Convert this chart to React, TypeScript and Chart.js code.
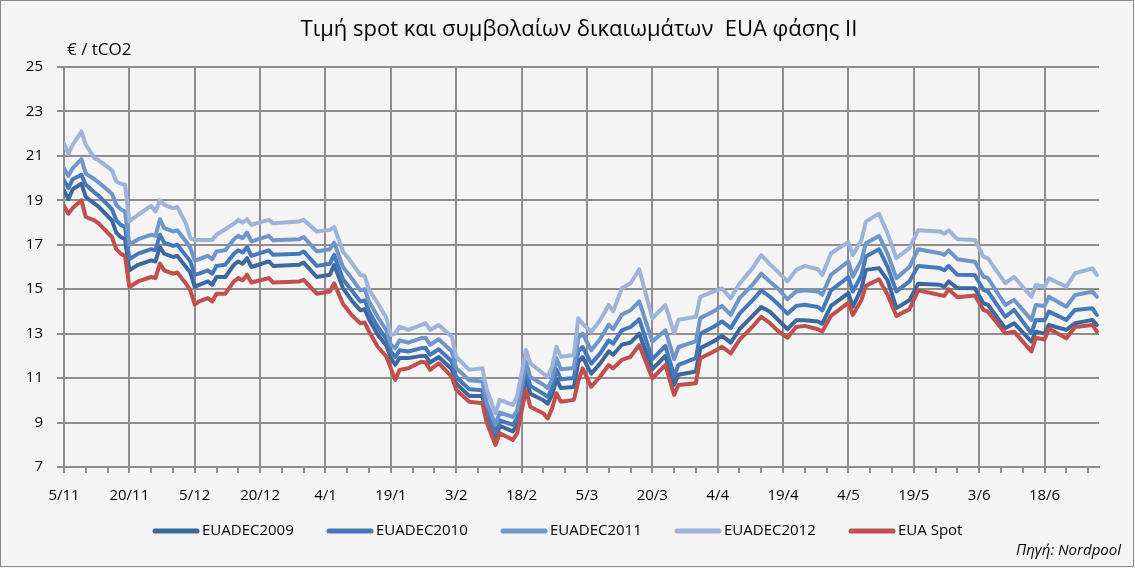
import { useEffect, useRef } from "react";
import { Chart, registerables } from "chart.js";

Chart.register(...registerables);

// day offsets from 5/11/2008
const days = [
  0, 1, 2, 4, 5, 7, 8, 11, 12, 13,
  14, 15, 17, 20, 21, 22, 23, 25, 26, 28,
  29, 30, 31, 33, 34, 35, 37, 39, 40, 41,
  42, 43, 47, 48, 54, 55, 58, 61, 62, 64,
  66, 68, 69, 70, 72, 74, 75, 76, 77, 79,
  82, 83, 84, 86, 89, 90, 93, 96, 97, 99,
  100, 103, 104, 106, 107, 110, 111, 112, 113, 114,
  117, 118, 119, 121, 123, 125, 126, 128, 130, 132,
  135, 138, 140, 141, 145, 146, 149, 151, 153, 155,
  158, 160, 162, 164, 166, 168, 170, 173, 174, 176,
  180, 181, 183, 184, 187, 189, 191, 194, 196, 201,
  202, 203, 205, 209, 211, 212, 216, 218, 222, 223,
  225, 226, 230, 232, 236, 237,
];

const euaSpot = [
  18.75, 18.4, 18.65, 19.0, 18.25, 18.1, 17.95, 17.35, 16.8, 16.6,
  16.5, 15.1, 15.35, 15.55, 15.5, 16.15, 15.85, 15.7, 15.75, 15.25,
  14.95, 14.3, 14.45, 14.6, 14.45, 14.8, 14.8, 15.35, 15.5, 15.4,
  15.65, 15.3, 15.5, 15.3, 15.35, 15.42, 14.8, 14.9, 15.27, 14.35,
  13.84, 13.47, 13.5, 13.1, 12.41, 11.96, 11.44, 10.92, 11.37, 11.44,
  11.74, 11.7, 11.37, 11.67, 11.06, 10.47, 9.94, 9.87, 9.0, 7.99,
  8.52, 8.22, 8.52, 10.47, 9.71, 9.41, 9.19, 9.64, 10.32, 9.94,
  10.02, 10.85, 11.44, 10.61, 11.06, 11.59, 11.44, 11.82, 11.96, 12.49,
  10.99, 11.59, 10.24, 10.69, 10.77, 11.89, 12.19, 12.41, 12.11, 12.72,
  13.32, 13.76, 13.47, 13.09, 12.82, 13.3, 13.35, 13.2, 13.1, 13.8,
  14.4, 13.84, 14.52, 15.15, 15.45, 14.75, 13.8, 14.1, 14.95, 14.74,
  14.7, 15.0, 14.64, 14.72, 14.07, 13.99, 13.02, 13.09, 12.2, 12.82,
  12.74, 13.22, 12.79, 13.3, 13.39, 13.09,
];

const euaDec2009 = [
  19.45, 19.05, 19.5, 19.75, 19.15, 18.85, 18.7, 18.1, 17.55, 17.35,
  17.25, 15.85, 16.1, 16.3, 16.25, 16.9, 16.6, 16.45, 16.5, 16.0,
  15.75, 15.1, 15.2, 15.35, 15.2, 15.55, 15.55, 16.1, 16.25, 16.15,
  16.4, 16.0, 16.25, 16.05, 16.1, 16.2, 15.55, 15.65, 16.1, 15.05,
  14.5, 14.05, 14.1, 13.65, 12.95, 12.45, 11.9, 11.6, 11.9, 11.9,
  12.0, 12.0, 11.7, 11.95, 11.4, 10.75, 10.2, 10.2, 9.3, 8.3,
  8.85, 8.6, 8.9, 11.0, 10.3, 10.0, 9.85, 10.25, 10.95, 10.55,
  10.6, 11.7, 11.95, 11.2, 11.65, 12.2, 12.05, 12.5, 12.6, 13.0,
  11.4, 12.0, 10.7, 11.15, 11.3, 12.35, 12.65, 12.9, 12.6, 13.2,
  13.8, 14.2, 13.99, 13.6, 13.2, 13.6, 13.6, 13.55, 13.45, 14.25,
  14.82, 14.21, 15.04, 15.87, 15.95, 15.4, 14.15, 14.5, 15.25, 15.2,
  15.1, 15.35, 15.05, 15.04, 14.37, 14.3, 13.24, 13.47, 12.64, 13.09,
  13.0, 13.39, 13.17, 13.47, 13.62, 13.39,
];

const euaDec2010 = [
  19.9, 19.55, 19.95, 20.15, 19.7, 19.35, 19.2, 18.6, 18.1, 17.9,
  17.8, 16.35, 16.6, 16.8, 16.75, 17.45, 17.1, 16.95, 17.0, 16.5,
  16.25, 15.65, 15.7, 15.85, 15.7, 16.05, 16.1, 16.6, 16.75, 16.65,
  16.9, 16.5, 16.75, 16.55, 16.6, 16.7, 16.05, 16.15, 16.55, 15.45,
  14.95, 14.45, 14.5, 14.0, 13.3, 12.75, 12.2, 11.95, 12.25, 12.2,
  12.35, 12.35, 12.05, 12.3, 11.75, 11.05, 10.5, 10.45, 9.55, 8.55,
  9.1, 8.9, 9.2, 11.4, 10.65, 10.3, 10.15, 10.55, 11.4, 10.95,
  11.0, 12.2, 12.4, 11.65, 12.1, 12.7, 12.55, 13.15, 13.3, 13.65,
  11.85, 12.45, 11.1, 11.6, 11.9, 13.0, 13.3, 13.55, 13.25, 13.9,
  14.5, 14.95, 14.66, 14.3, 13.9, 14.25, 14.3, 14.2, 14.05, 14.95,
  15.55, 14.89, 15.64, 16.47, 16.8, 16.0, 14.9, 15.35, 16.05, 15.95,
  15.85, 16.05, 15.65, 15.64, 14.97, 14.9, 13.76, 14.07, 13.02, 13.62,
  13.6, 13.99, 13.62, 14.07, 14.14, 13.84,
];

const euaDec2011 = [
  20.45, 20.1, 20.45, 20.85, 20.2, 19.95, 19.8, 19.3, 18.8, 18.6,
  18.5, 17.0, 17.25, 17.45, 17.4, 18.15, 17.75, 17.6, 17.65, 17.15,
  16.85, 16.3, 16.35, 16.5, 16.35, 16.7, 16.75, 17.25, 17.4, 17.3,
  17.55, 17.15, 17.4, 17.2, 17.25, 17.35, 16.7, 16.8, 17.1, 16.0,
  15.5, 14.95, 15.0, 14.45, 13.75, 13.15, 12.5, 12.35, 12.7, 12.6,
  12.8, 12.8, 12.5, 12.75, 12.2, 11.45, 10.9, 10.85, 9.9, 8.9,
  9.45, 9.25, 9.55, 11.75, 11.05, 10.7, 10.55, 10.95, 11.9, 11.4,
  11.45, 12.8, 13.0, 12.25, 12.75, 13.4, 13.2, 13.85, 14.05, 14.45,
  12.65, 13.15, 11.85, 12.4, 12.65, 13.7, 14.0, 14.25, 13.85, 14.6,
  15.2, 15.7, 15.34, 15.0, 14.55, 14.9, 14.95, 14.9, 14.75, 15.65,
  16.25, 15.56, 16.32, 17.07, 17.4, 16.6, 15.5, 16.0, 16.8, 16.62,
  16.55, 16.75, 16.35, 16.24, 15.56, 15.5, 14.29, 14.52, 13.62, 14.29,
  14.25, 14.66, 14.21, 14.74, 14.89, 14.66,
];

const euaDec2012 = [
  21.55, 21.1, 21.5, 22.1, 21.5, 20.9, 20.8, 20.35, 19.85, 19.75,
  19.7, 18.05, 18.35, 18.75, 18.5, 19.0, 18.8, 18.65, 18.7, 17.95,
  17.3, 17.2, 17.22, 17.22, 17.22, 17.45, 17.7, 17.95, 18.12, 18.0,
  18.15, 17.9, 18.12, 17.97, 18.05, 18.12, 17.6, 17.67, 17.8, 16.7,
  16.2, 15.64, 15.6, 14.97, 14.37, 13.69, 12.94, 13.0, 13.32, 13.17,
  13.4, 13.47, 13.17, 13.39, 12.86, 11.96, 11.37, 11.45, 10.5, 9.41,
  10.02, 9.79, 10.2, 12.27, 11.67, 11.2, 11.06, 11.5, 12.41, 11.96,
  12.04, 13.69, 13.45, 13.09, 13.6, 14.29, 14.0, 15.04, 15.27, 15.9,
  13.69, 14.29, 13.02, 13.62, 13.76, 14.66, 14.89, 15.04, 14.59, 15.25,
  15.95, 16.54, 16.12, 15.75, 15.35, 15.87, 16.05, 15.9, 15.64, 16.62,
  17.12, 16.54, 17.22, 18.04, 18.4, 17.5, 16.4, 16.85, 17.65, 17.6,
  17.5, 17.65, 17.25, 17.22, 16.47, 16.39, 15.27, 15.56, 14.66, 15.19,
  15.11, 15.49, 15.11, 15.72, 15.94, 15.64,
];

const xTickLabels = [
  "5/11", "20/11", "5/12", "20/12", "4/1", "19/1", "3/2", "18/2",
  "5/3", "20/3", "4/4", "19/4", "4/5", "19/5", "3/6", "18/6",
];

const seriesNames = ["EUADEC2009", "EUADEC2010", "EUADEC2011", "EUADEC2012", "EUA Spot"];
const seriesColors = ["#3B689F", "#4679B9", "#7096C9", "#9DB3D7", "#C0504D"];
const seriesValues = [euaDec2009, euaDec2010, euaDec2011, euaDec2012, euaSpot];

const titleText = "Τιμή spot και συμβολαίων δικαιωμάτων  EUA φάσης II";
const unitText = "€ / tCO2";
const sourceText = "Πηγή: Nordpool";

const FONT = "'Open Sans', 'Noto Sans', sans-serif";
const GRID = "#8e8e8e";
const BG = "#f4f4f4";

export default function App() {
  const ref = useRef<HTMLCanvasElement>(null);

  useEffect(() => {
    document.body.style.margin = "0";
    document.body.style.overflow = "hidden";
    const canvas = ref.current;
    if (!canvas) return;

    const bgPlugin = {
      id: "bgPlugin",
      beforeDraw(chart: any) {
        const c = chart.ctx;
        c.save();
        c.fillStyle = BG;
        c.fillRect(0, 0, chart.width, chart.height);
        c.strokeStyle = "#8a8a8a";
        c.lineWidth = 1;
        c.strokeRect(0.5, 0.5, chart.width - 2, chart.height - 2);
        c.restore();
      },
      afterDraw(chart: any) {
        const c = chart.ctx;
        c.save();
        c.fillStyle = "#000";
        c.textBaseline = "middle";
        // title
        c.font = `22px ${FONT}`;
        c.textAlign = "center";
        c.fillText(titleText, 579, 30);
        // unit label
        c.font = `17px ${FONT}`;
        c.textAlign = "left";
        c.fillText(unitText, 67, 50);
        // legend
        const x0 = 153;
        const pitch = 174;
        const y = 531;
        c.font = `15px ${FONT}`;
        seriesNames.forEach((name, i) => {
          const x = x0 + i * pitch;
          c.strokeStyle = seriesColors[i];
          c.lineWidth = 5;
          c.lineCap = "round";
          c.beginPath();
          c.moveTo(x + 2, y);
          c.lineTo(x + 44, y);
          c.stroke();
          c.fillStyle = "#000";
          c.textAlign = "left";
          c.fillText(name, x + 49, y);
        });
        // source
        c.font = `italic 15px ${FONT}`;
        c.textAlign = "right";
        c.fillText(sourceText, 1121, 551);
        c.restore();
      },
    };

    const chart = new Chart(canvas, {
      type: "line",
      data: {
        datasets: seriesNames.map((name, i) => ({
          label: name,
          data: days.map((d, j) => ({ x: d, y: seriesValues[i][j] })),
          borderColor: seriesColors[i],
          backgroundColor: seriesColors[i],
          borderWidth: 4,
          pointRadius: 0,
          tension: 0,
          borderJoinStyle: "round" as const,
          borderCapStyle: "round" as const,
          order: 5 - i,
        })),
      },
      options: {
        animation: false,
        responsive: false,
        layout: { padding: { left: 0, right: 36, top: 67, bottom: 0 } },
        plugins: {
          legend: { display: false },
          tooltip: { enabled: false },
          title: { display: false },
        },
        scales: {
          x: {
            type: "linear",
            min: 0,
            max: 237.5,
            afterBuildTicks: (scale: any) => {
              const t: { value: number }[] = [];
              for (let v = 0; v <= 235; v += 5) t.push({ value: v });
              scale.ticks = t;
            },
            afterFit: (scale: any) => {
              scale.height = 101;
            },
            ticks: {
              autoSkip: false,
              maxRotation: 0,
              minRotation: 0,
              padding: 14,
              color: "#000",
              font: { family: FONT, size: 15 },
              callback: (value: any) => {
                const v = Number(value);
                return v % 15 === 0 ? xTickLabels[v / 15] ?? "" : "";
              },
            },
            grid: {
              color: (ctx: any) =>
                ctx.tick && ctx.tick.value % 15 === 0 ? GRID : "rgba(0,0,0,0)",
              tickColor: GRID,
              lineWidth: 2,
              tickLength: 6,
            },
            border: { display: true, color: GRID, width: 2 },
          },
          y: {
            min: 7,
            max: 25,
            afterFit: (scale: any) => {
              scale.width = 64;
            },
            ticks: {
              stepSize: 2,
              padding: 14,
              color: "#000",
              font: { family: FONT, size: 15 },
            },
            grid: { color: GRID, lineWidth: 2, tickLength: 7 },
            border: { display: true, color: GRID, width: 2 },
          },
        },
      },
      plugins: [bgPlugin],
    });

    return () => chart.destroy();
  }, []);

  return (
    <div style={{ width: 1135, height: 568 }}>
      <canvas ref={ref} width={1135} height={568} style={{ display: "block" }} />
    </div>
  );
}
